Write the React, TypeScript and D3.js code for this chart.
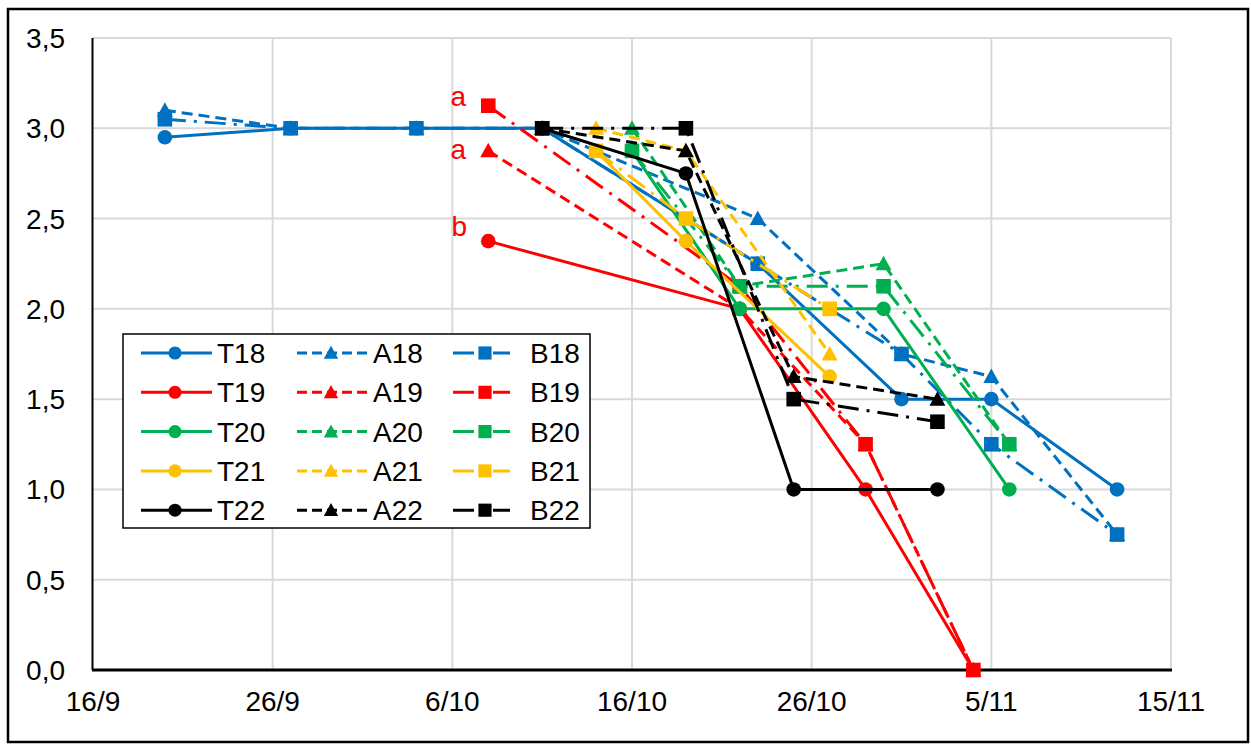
import React from "react";
import * as d3 from "d3";

// ---------- data ----------
const xTickDates = ["2018-09-16", "2018-09-26", "2018-10-06", "2018-10-16", "2018-10-26", "2018-11-05", "2018-11-15"];
const xTickLabels = ["16/9", "26/9", "6/10", "16/10", "26/10", "5/11", "15/11"];
const yTicks = [0, 0.5, 1, 1.5, 2, 2.5, 3, 3.5];
const yTickLabels = ["0,0", "0,5", "1,0", "1,5", "2,0", "2,5", "3,0", "3,5"];

const dates18 = ["2018-09-20", "2018-09-27", "2018-10-04", "2018-10-11", "2018-10-23", "2018-10-31", "2018-11-05", "2018-11-12"];
const T18 = [2.95, 3.0, 3.0, 3.0, 2.25, 1.5, 1.5, 1.0];
const A18 = [3.1, 3.0, 3.0, 3.0, 2.5, 1.75, 1.625, 0.75];
const B18 = [3.05, 3.0, 3.0, 3.0, 2.25, 1.75, 1.25, 0.75];

const dates19 = ["2018-10-08", "2018-10-22", "2018-10-29", "2018-11-04"];
const T19 = [2.375, 2.0, 1.0, 0];
const A19 = [2.875, 2.0, 1.25, 0];
const B19 = [3.125, 2.125, 1.25, 0];

const dates20 = ["2018-10-16", "2018-10-22", "2018-10-30", "2018-11-06"];
const T20 = [2.875, 2.0, 2.0, 1.0];
const A20 = [3.0, 2.125, 2.25, 1.25];
const B20 = [2.875, 2.125, 2.125, 1.25];

const dates21 = ["2018-10-14", "2018-10-19", "2018-10-27"];
const T21 = [2.875, 2.375, 1.625];
const A21 = [3.0, 2.875, 1.75];
const B21 = [2.875, 2.5, 2.0];

const dates22 = ["2018-10-11", "2018-10-19", "2018-10-25", "2018-11-02"];
const T22 = [3.0, 2.75, 1.0, 1.0];
const A22 = [3.0, 2.875, 1.625, 1.5];
const B22 = [3.0, 3.0, 1.5, 1.375];

const groupNames = ["18", "19", "20", "21", "22"];
const groupColors = ["#0070C0", "#FF0000", "#00B050", "#FFC000", "#000000"];
const groupDates = [dates18, dates19, dates20, dates21, dates22];
const groupValues = [
  [T18, A18, B18],
  [T19, A19, B19],
  [T20, A20, B20],
  [T21, A21, B21],
  [T22, A22, B22],
];
const kinds = ["T", "A", "B"];

// annotations on first points of the 19 series
const annotTexts = ["a", "a", "b"];
const annotKinds = ["B", "A", "T"];

// ---------- styles ----------
const W = 1251;
const H = 744;
const FONT = "'Liberation Sans', Arial, sans-serif";
const dashFor: Record<string, string | undefined> = { T: undefined, A: "11,6", B: "21,8,3,8" };

const parse = (s: string) => {
  const [y, m, d] = s.split("-").map(Number);
  return new Date(Date.UTC(y, m - 1, d));
};

function Marker({ kind, x, y, color, s = 1 }: { kind: string; x: number; y: number; color: string; s?: number }) {
  if (kind === "T") return <circle cx={x} cy={y} r={7.3 * s} fill={color} />;
  if (kind === "B") return <rect x={x - 7.3 * s} y={y - 7.3 * s} width={14.6 * s} height={14.6 * s} fill={color} />;
  const p = `M${x},${y - 8 * s}L${x + 8 * s},${y + 6.5 * s}L${x - 8 * s},${y + 6.5 * s}Z`;
  return <path d={p} fill={color} />;
}

export default function App() {
  const x = d3.scaleUtc().domain([parse(xTickDates[0]), parse(xTickDates[xTickDates.length - 1])]).range([93, 1171]);
  const y = d3.scaleLinear().domain([0, 3.5]).range([670, 38]);
  const line = d3
    .line<[Date, number]>()
    .x((d) => x(d[0]))
    .y((d) => y(d[1]));

  const series: { key: string; kind: string; color: string; pts: [Date, number][] }[] = [];
  groupNames.forEach((g, gi) => {
    kinds.forEach((k, ki) => {
      series.push({
        key: k + g,
        kind: k,
        color: groupColors[gi],
        pts: groupDates[gi].map((d, i) => [parse(d), groupValues[gi][ki][i]] as [Date, number]),
      });
    });
  });

  const legendX = 123;
  const legendY = 334;
  const rowH = 39.3;
  const cols = [
    { l0: 141, l1: 212, m: 175, tx: 217 },
    { l0: 297, l1: 367, m: 331, tx: 373 },
    { l0: 453, l1: 510, m: 485, tx: 530 },
  ];

  const annotOffsets = [
    { dx: -30, dy: 0 },
    { dx: -30, dy: 8 },
    { dx: -29, dy: -5 },
  ];

  return (
    <svg
      width={W}
      height={H}
      style={{ position: "absolute", left: 0, top: 0, background: "#fff" }}
      fontFamily={FONT}
    >
      <rect x={0} y={0} width={W} height={H} fill="#fff" />
      <rect x={8} y={9} width={1240} height={733} fill="none" stroke="#000" strokeWidth={2.5} />

      {/* gridlines */}
      {yTicks.slice(1).map((t) => (
        <line key={"gy" + t} x1={93} x2={1171} y1={y(t)} y2={y(t)} stroke="#d9d9d9" strokeWidth={2} />
      ))}
      {xTickDates.slice(1).map((d) => (
        <line key={"gx" + d} x1={x(parse(d))} x2={x(parse(d))} y1={38} y2={670} stroke="#d9d9d9" strokeWidth={2} />
      ))}

      {/* axes */}
      <line x1={92.5} x2={92.5} y1={38} y2={670} stroke="#000" strokeWidth={2} />
      <line x1={92} x2={1172} y1={670} y2={670} stroke="#000" strokeWidth={3} />

      {yTicks.map((t, i) => (
        <text key={"yl" + t} x={65} y={y(t) + 10} textAnchor="end" fontSize={28} fill="#000">
          {yTickLabels[i]}
        </text>
      ))}
      {xTickDates.map((d, i) => (
        <text key={"xl" + d} x={x(parse(d))} y={711} textAnchor="middle" fontSize={28} fill="#000">
          {xTickLabels[i]}
        </text>
      ))}

      {/* series */}
      {series.map((s) => (
        <g key={s.key}>
          <path
            d={line(s.pts) || ""}
            fill="none"
            stroke={s.color}
            strokeWidth={3}
            strokeDasharray={dashFor[s.kind]}
            strokeLinejoin="round"
          />
          {s.pts.map((p, i) => (
            <Marker key={i} kind={s.kind} x={x(p[0])} y={y(p[1])} color={s.color} />
          ))}
        </g>
      ))}

      {/* annotations */}
      {annotTexts.map((t, i) => {
        const ki = kinds.indexOf(annotKinds[i]);
        const d = parse(dates19[0]);
        const v = groupValues[1][ki][0];
        return (
          <text
            key={"an" + i}
            x={x(d) + annotOffsets[i].dx}
            y={y(v) + annotOffsets[i].dy}
            textAnchor="middle"
            fontSize={28}
            fill="#FF0000"
          >
            {t}
          </text>
        );
      })}

      {/* legend */}
      <rect x={legendX} y={legendY} width={467} height={194} fill="#fff" stroke="#000" strokeWidth={1.5} />
      {groupNames.map((g, gi) =>
        kinds.map((k, ki) => {
          const c = cols[ki];
          const ry = legendY + 19 + gi * rowH;
          return (
            <g key={"lg" + k + g}>
              <line
                x1={c.l0}
                x2={c.l1}
                y1={ry}
                y2={ry}
                stroke={groupColors[gi]}
                strokeWidth={3}
                strokeDasharray={k === "A" ? "10,5" : dashFor[k]}
              />
              <Marker kind={k} x={c.m} y={ry} color={groupColors[gi]} s={0.9} />
              <text x={c.tx} y={ry + 10} fontSize={28} fill="#000">
                {k + g}
              </text>
            </g>
          );
        })
      )}
    </svg>
  );
}
